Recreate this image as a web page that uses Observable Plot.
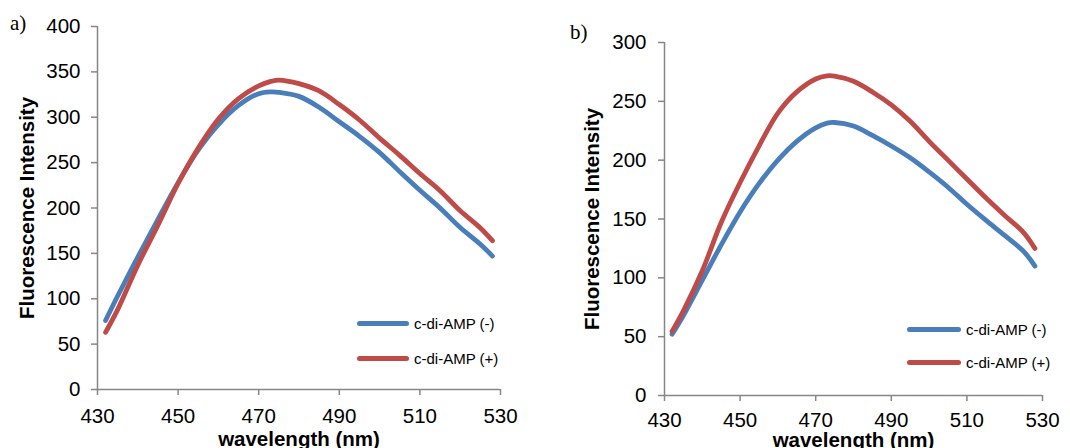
<!DOCTYPE html>
<html>
<head>
<meta charset="utf-8">
<script src="https://cdn.jsdelivr.net/npm/d3@7"></script>
<script src="https://cdn.jsdelivr.net/npm/@observablehq/plot@0.6"></script>
<style>
  html, body { margin: 0; padding: 0; background: #fff; }
  #wrap { position: relative; width: 1070px; height: 448px; overflow: hidden; font-family: "Liberation Sans", Arial, sans-serif; }
  .panel { position: absolute; top: 0; }
  .tag { position: absolute; font-family: "Liberation Serif", "Times New Roman", serif; font-size: 21px; line-height: 1; }
  .leg { position: absolute; font-size: 15px; color: #000; }
  .leg .row { position: absolute; white-space: nowrap; display: flex; align-items: center; }
  .leg .sw { display: inline-block; height: 5px; border-radius: 3px; margin-right: 5px; }
</style>
</head>
<body>
<div id="wrap"></div>
<script>
// ---- data ----
const wavelengths = [432, 435, 440, 445, 450, 455, 460, 465, 470, 473, 475, 480, 485, 490, 495, 500, 505, 510, 515, 520, 525, 528];
const seriesNames = ["c-di-AMP (-)", "c-di-AMP (+)"];
const seriesColors = ["#4A7EBB", "#BE4B48"];
const xTicks = [430, 450, 470, 490, 510, 530];

const aMinus = [76, 103, 146, 187.5, 228, 264, 292, 313, 326, 328, 327.5, 323, 311, 295, 279, 261, 240, 219.5, 200, 178.5, 160, 147];
const aPlus  = [63, 88, 137, 181, 227, 266, 298, 320.5, 334.5, 339.5, 341, 337, 329, 314, 297, 277, 258, 238, 219, 197, 178, 164];
const aYTicks = [0, 50, 100, 150, 200, 250, 300, 350, 400];

const bMinus = [52, 68, 98, 128, 156, 180, 200, 216, 227.5, 231.5, 232, 229, 221, 212, 202, 190, 177, 162.5, 149, 136, 122.5, 110];
const bPlus  = [54.5, 72, 106, 147, 181, 212, 240, 258, 269, 271.7, 271.5, 267, 258, 247, 233, 216, 200, 184, 168, 153, 138.5, 125];
const bYTicks = [0, 50, 100, 150, 200, 250, 300];

const yTitle = "Fluorescence Intensity";
const xTitle = "wavelength (nm)";

// ---- build ----
const wrap = document.getElementById("wrap");
const axisGray = "#868686";
const FONT = "'Liberation Sans', Arial, sans-serif";

function toRows(minus, plus) {
  const rows = [];
  wavelengths.forEach((w, i) => rows.push({wl: w, v: minus[i], s: seriesNames[0]}));
  wavelengths.forEach((w, i) => rows.push({wl: w, v: plus[i], s: seriesNames[1]}));
  return rows;
}

function panel(cfg) {
  const rows = toRows(cfg.minus, cfg.plus);
  const ymax = cfg.yTicks[cfg.yTicks.length - 1];
  const chart = Plot.plot({
    width: cfg.width,
    height: 448,
    marginLeft: cfg.ml,
    marginRight: cfg.mr,
    marginTop: cfg.mt,
    marginBottom: cfg.mb,
    style: {fontFamily: FONT, fontSize: "20.5px", color: "#000", background: "#fff", overflow: "visible", maxWidth: "none"},
    x: {domain: [430, 530]},
    y: {domain: [0, ymax]},
    color: {domain: seriesNames, range: seriesColors},
    marks: [
      Plot.axisX({ticks: xTicks, tickSize: 6, stroke: axisGray, strokeWidth: 1.5, label: null, tickFormat: () => ""}),
      Plot.axisY({ticks: cfg.yTicks, tickSize: 6, stroke: axisGray, strokeWidth: 1.5, label: null, tickFormat: () => ""}),
      Plot.text(xTicks, {x: d => d, frameAnchor: "bottom", lineAnchor: "top", dy: cfg.xLabDy, fontSize: 20.5, fill: "#000"}),
      Plot.text(cfg.yTicks, {y: d => d, frameAnchor: "left", textAnchor: "end", dx: cfg.yLabDx, fontSize: 20.5, fill: "#000"}),
      Plot.ruleY([0], {stroke: axisGray, strokeWidth: 1.5}),
      Plot.ruleX([430], {stroke: axisGray, strokeWidth: 1.5}),
      Plot.line(rows, {x: "wl", y: "v", z: "s", stroke: "s", strokeWidth: 4.8, curve: "catmull-rom", strokeLinecap: "round", strokeLinejoin: "round"}),
      Plot.text([yTitle], {frameAnchor: "left", textAnchor: "middle", rotate: -90, dx: cfg.yTitleDx, fontWeight: "bold", fontSize: 20.5}),
      Plot.text([xTitle], {frameAnchor: "bottom", dy: cfg.xTitleDy, fontWeight: "bold", fontSize: 20.5})
    ]
  });
  const holder = document.createElement("div");
  holder.className = "panel";
  holder.style.left = cfg.left + "px";
  holder.style.width = cfg.width + "px";
  holder.appendChild(chart);
  wrap.appendChild(holder);

  const tag = document.createElement("div");
  tag.className = "tag";
  tag.textContent = cfg.tag;
  tag.style.left = cfg.tagX + "px";
  tag.style.top = cfg.tagY + "px";
  wrap.appendChild(tag);

  const leg = document.createElement("div");
  leg.className = "leg";
  seriesNames.forEach((n, i) => {
    const row = document.createElement("div");
    row.className = "row";
    row.style.left = cfg.legX + "px";
    row.style.top = (cfg.legY[i] - 10) + "px";
    row.style.height = "20px";
    const sw = document.createElement("span");
    sw.className = "sw";
    sw.style.width = cfg.legW + "px";
    sw.style.background = seriesColors[i];
    row.appendChild(sw);
    const t = document.createElement("span");
    t.textContent = n;
    row.appendChild(t);
    leg.appendChild(row);
  });
  wrap.appendChild(leg);
}

panel({
  left: 0, width: 540, ml: 97, mr: 40, mt: 26, mb: 59,
  minus: aMinus, plus: aPlus, yTicks: aYTicks,
  xLabDy: 19, yLabDx: -17, yTitleDx: -70, xTitleDy: 56,
  tag: "a)", tagX: 10, tagY: 13,
  legX: 357, legY: [323, 358], legW: 52
});

panel({
  left: 540, width: 530, ml: 124, mr: 28, mt: 42, mb: 53,
  minus: bMinus, plus: bPlus, yTicks: bYTicks,
  xLabDy: 17, yLabDx: -18, yTitleDx: -72, xTitleDy: 51,
  tag: "b)", tagX: 570, tagY: 22,
  legX: 907, legY: [329, 362], legW: 54
});
</script>
</body>
</html>
